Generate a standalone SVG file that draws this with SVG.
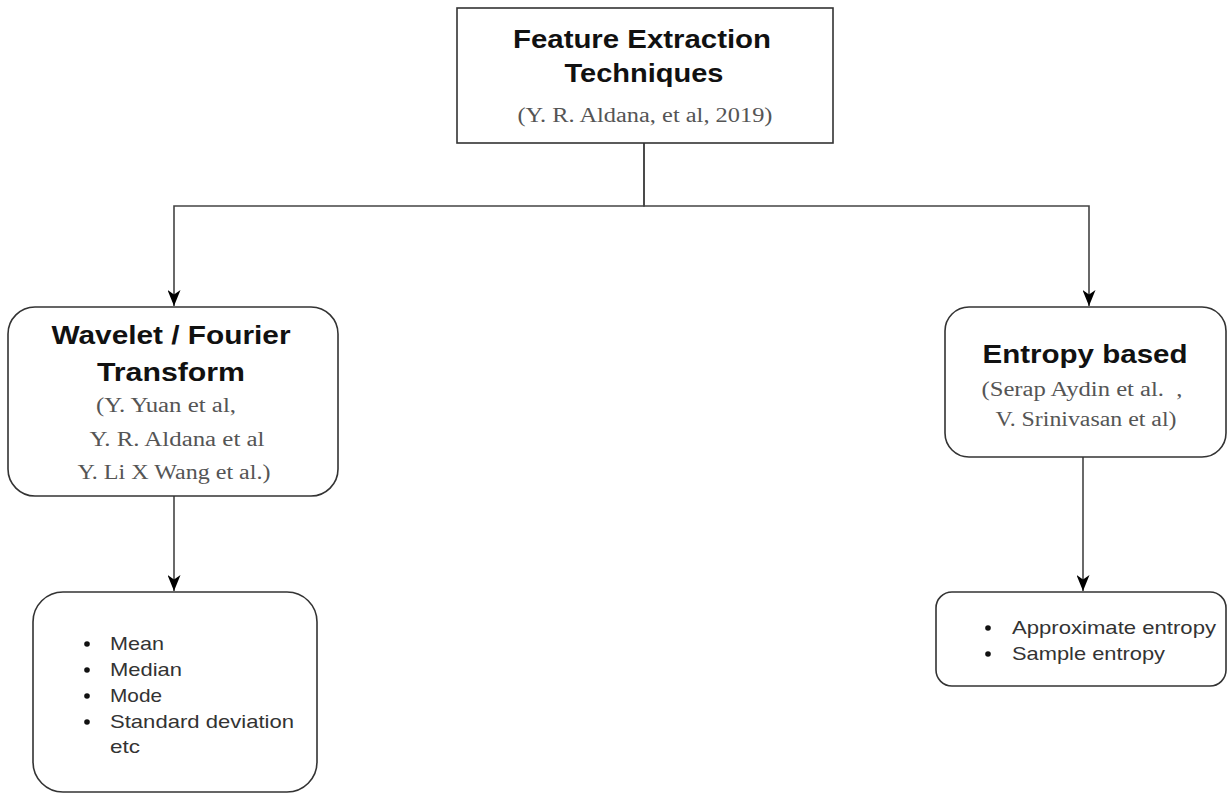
<svg xmlns="http://www.w3.org/2000/svg" width="1227" height="794" viewBox="0 0 1227 794">
  <defs>
    <!-- notched arrowhead, drawn along +x so orient="auto" points it down the edge -->
    <marker id="arrow" markerWidth="17" markerHeight="13" refX="16" refY="6.5" orient="auto" markerUnits="userSpaceOnUse" viewBox="0 0 17 13">
      <path d="M0,0 L16,6.5 L0,13 L4.5,6.5 Z" fill="#000"/>
    </marker>
    <style>
      .box { fill: #fff; stroke: #333; stroke-width: 1.6; }
      .edge { fill: none; stroke: #444; stroke-width: 1.6; }
      .title { font-family: "Liberation Sans", Arial, sans-serif; font-weight: bold; font-size: 25px; fill: #111; text-anchor: middle; }
      .cite { font-family: "Liberation Serif", "Times New Roman", serif; font-size: 20px; fill: #555; text-anchor: middle; }
      .item { font-family: "Liberation Sans", Arial, sans-serif; font-size: 19px; fill: #333; }
      .dot { fill: #111; }
    </style>
  </defs>

  <rect width="1227" height="794" fill="#fff"/>

  <!-- connectors -->
  <g id="connectors">
    <path class="edge" d="M644,143 V206 H174 V306" marker-end="url(#arrow)"/>
    <path class="edge" d="M644,143 V206 H1089 V306" marker-end="url(#arrow)"/>
    <path class="edge" d="M174,496 V591" marker-end="url(#arrow)"/>
    <path class="edge" d="M1083,457 V591" marker-end="url(#arrow)"/>
  </g>

  <!-- root -->
  <g id="node-root">
    <rect class="box" x="457" y="8" width="376" height="135"/>
    <text class="title" x="642" y="48" textLength="258" lengthAdjust="spacingAndGlyphs">Feature Extraction</text>
    <text class="title" x="644" y="82" textLength="159" lengthAdjust="spacingAndGlyphs">Techniques</text>
    <text class="cite" x="645" y="122" textLength="255" lengthAdjust="spacingAndGlyphs">(Y. R. Aldana, et al, 2019)</text>
  </g>

  <!-- wavelet / fourier -->
  <g id="node-wavelet">
    <rect class="box" x="8" y="307" width="330" height="189" rx="27" ry="27"/>
    <text class="title" x="171" y="344" textLength="239" lengthAdjust="spacingAndGlyphs">Wavelet / Fourier</text>
    <text class="title" x="171" y="381" textLength="148" lengthAdjust="spacingAndGlyphs">Transform</text>
    <text class="cite" x="166" y="412" font-size="21" textLength="140" lengthAdjust="spacingAndGlyphs">(Y. Yuan et al,</text>
    <text class="cite" x="177" y="446" font-size="21" textLength="175" lengthAdjust="spacingAndGlyphs">Y. R. Aldana et al</text>
    <text class="cite" x="174" y="479" font-size="21" textLength="193" lengthAdjust="spacingAndGlyphs">Y. Li X Wang et al.)</text>
  </g>

  <!-- entropy -->
  <g id="node-entropy">
    <rect class="box" x="945" y="307" width="281" height="150" rx="24" ry="24"/>
    <text class="title" x="1085" y="363" textLength="205" lengthAdjust="spacingAndGlyphs">Entropy based</text>
    <text class="cite" x="1082" y="396" xml:space="preserve" textLength="201" lengthAdjust="spacingAndGlyphs">(Serap Aydin et al.  ,</text>
    <text class="cite" x="1086" y="426" textLength="181" lengthAdjust="spacingAndGlyphs">V. Srinivasan et al)</text>
  </g>

  <!-- statistics list -->
  <g id="node-stats">
    <rect class="box" x="33" y="592" width="284" height="200" rx="30" ry="30"/>
    <circle class="dot" cx="87" cy="644" r="2.8"/>
    <circle class="dot" cx="87" cy="670" r="2.8"/>
    <circle class="dot" cx="87" cy="696" r="2.8"/>
    <circle class="dot" cx="87" cy="722" r="2.8"/>
    <text class="item" x="110" y="650" textLength="54" lengthAdjust="spacingAndGlyphs">Mean</text>
    <text class="item" x="110" y="676" textLength="72" lengthAdjust="spacingAndGlyphs">Median</text>
    <text class="item" x="110" y="702" textLength="52" lengthAdjust="spacingAndGlyphs">Mode</text>
    <text class="item" x="110" y="728" textLength="184" lengthAdjust="spacingAndGlyphs">Standard deviation</text>
    <text class="item" x="110" y="753" textLength="30" lengthAdjust="spacingAndGlyphs">etc</text>
  </g>

  <!-- entropy list -->
  <g id="node-entropy-list">
    <rect class="box" x="936" y="592" width="290" height="94" rx="16" ry="16"/>
    <circle class="dot" cx="988" cy="628" r="2.8"/>
    <circle class="dot" cx="988" cy="654" r="2.8"/>
    <text class="item" x="1012" y="634" textLength="204" lengthAdjust="spacingAndGlyphs">Approximate entropy</text>
    <text class="item" x="1012" y="660" textLength="153" lengthAdjust="spacingAndGlyphs">Sample entropy</text>
  </g>
</svg>
